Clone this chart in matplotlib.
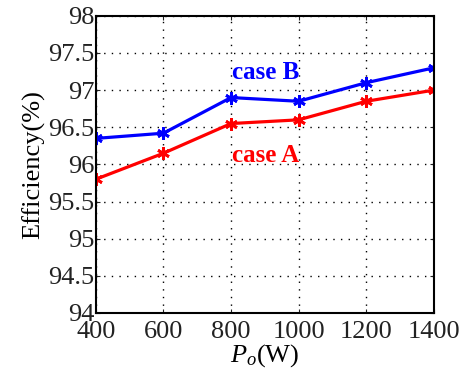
import matplotlib.pyplot as plt

power = [400, 600, 800, 1000, 1200, 1400]
eff_case_a = [95.8, 96.15, 96.55, 96.6, 96.85, 97.0]
eff_case_b = [96.35, 96.42, 96.9, 96.85, 97.1, 97.3]
yticks = [94, 94.5, 95, 95.5, 96, 96.5, 97, 97.5, 98]
ytick_labels = ['94', '94.5', '95', '95.5', '96', '96.5', '97', '97.5', '98']

plt.rcParams['font.family'] = ['Liberation Serif', 'DejaVu Serif']
plt.rcParams['mathtext.fontset'] = 'custom'
plt.rcParams['mathtext.rm'] = 'Liberation Serif'
plt.rcParams['mathtext.it'] = 'Liberation Serif:italic'

fig = plt.figure(figsize=(4.63, 3.69), dpi=100)
ax = fig.add_axes([0.207, 0.152, 0.73, 0.805])

mk = (6, 2, 0)
ax.plot(power, eff_case_b, color='blue', lw=2.3, marker=mk, ms=9, mew=2)
ax.plot(power, eff_case_a, color='red', lw=2.3, marker=mk, ms=9, mew=2)

ax.text(903, 97.24, 'case B', color='blue', fontsize=18, fontweight='bold',
        ha='center', va='center')
ax.text(903, 96.12, 'case A', color='red', fontsize=18, fontweight='bold',
        ha='center', va='center')

ax.set_xlim(400, 1400)
ax.set_ylim(94, 98)
ax.set_xticks(power)
ax.set_yticks(yticks)
ax.set_yticklabels(ytick_labels)
ax.tick_params(labelsize=19, direction='in', top=True, right=True,
               length=3, pad=1, colors='#222222')
ax.tick_params(axis='x', pad=6)
ax.grid(True, color='black', linestyle=(0, (1, 4.5)), lw=1)
for s in ax.spines.values():
    s.set_linewidth(1.5)

ax.set_xlabel(r'$P_o$(W)', fontsize=19, labelpad=-1)
ax.set_ylabel('Efficiency(%)', fontsize=19, labelpad=2)

fig.savefig('out.png', dpi=100)
